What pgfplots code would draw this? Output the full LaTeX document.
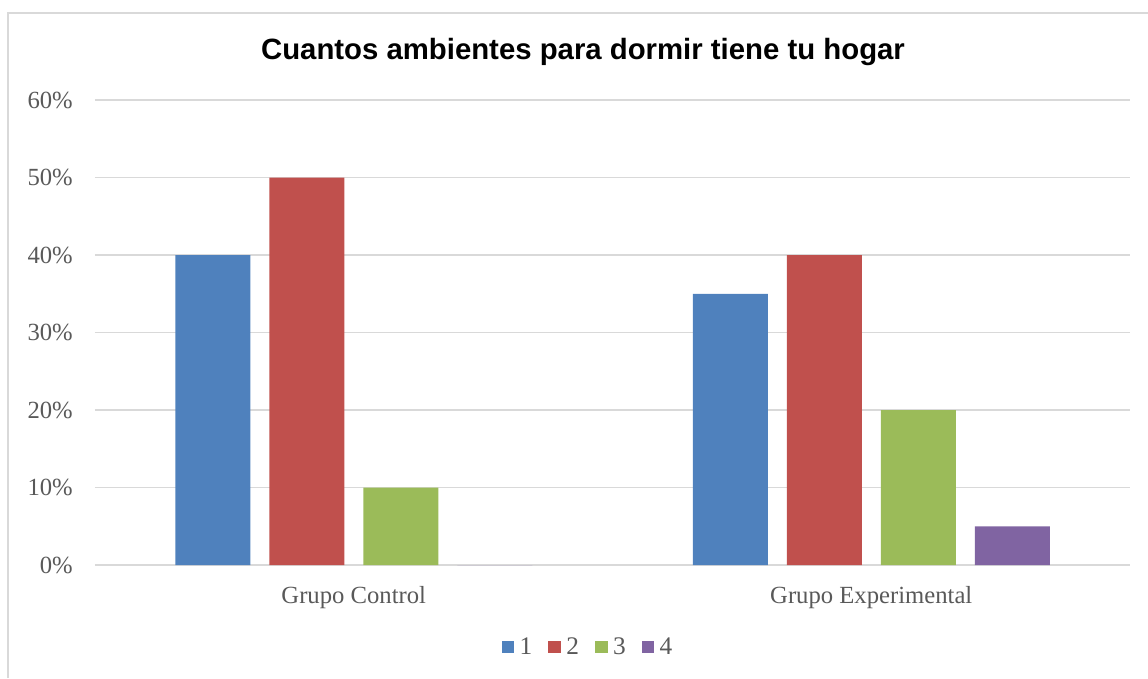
\documentclass[border=0pt]{standalone}
\usepackage{pgfplots}
\pgfplotsset{compat=1.18}
\usepackage{fontspec}
\setmainfont{Liberation Serif}
\newfontfamily\arial{Liberation Sans}

\definecolor{c1}{HTML}{4F81BD}
\definecolor{c2}{HTML}{C0504D}
\definecolor{c3}{HTML}{9BBB59}
\definecolor{c4}{HTML}{8064A2}
\definecolor{gridc}{HTML}{D9D9D9}
\definecolor{txt}{HTML}{595959}

\begin{document}
\begin{tikzpicture}
\path[use as bounding box] (-71.25pt,-84.75pt) rectangle (789.75pt,423.75pt);
\draw[gridc, line width=1pt] (-65.25pt,-84.75pt) -- (-65.25pt,414pt) -- (789.75pt,414pt);
\begin{axis}[
    scale only axis,
    width=776.25pt,
    height=348.75pt,
    ybar=14.25pt,
    bar width=56.25pt,
    xmin=-0.5, xmax=1.5,
    ymin=0, ymax=60,
    xtick={0,1},
    xticklabels={Grupo Control, Grupo Experimental},
    ytick={0,10,...,60},
    yticklabel={\pgfmathprintnumber{\tick}\%},
    /pgf/number format/assume math mode=true,
    major tick length=0pt,
    ymajorgrids,
    grid style={gridc, line width=1pt},
    axis x line*=bottom,
    axis y line*=left,
    x axis line style={gridc, line width=1.5pt},
    y axis line style={draw=none},
    ticklabel style={font=\fontsize{18.5}{20}\selectfont, text=txt, inner sep=0pt},
    yticklabel style={anchor=east, xshift=-16.5pt},
    xticklabel style={anchor=north, yshift=-16pt},
    clip=false,
    legend style={at={(rel axis cs:0.478,-0.176)}, anchor=center, draw=none,
        font=\fontsize{19}{20}\selectfont, text=txt,
        legend columns=-1,
        nodes={inner xsep=4pt},
        /tikz/every even column/.append style={column sep=8pt}},
    legend image code/.code={\fill[#1] (0pt,-4.75pt) rectangle (9.5pt,4.75pt);},
]
\addplot[fill=c1, draw=none] coordinates {(0,40) (1,35)};
\addplot[fill=c2, draw=none] coordinates {(0,50) (1,40)};
\addplot[fill=c3, draw=none] coordinates {(0,10) (1,20)};
\addplot[fill=c4, draw=none] coordinates {(0,0) (1,5)};
\legend{1,2,3,4}
\node[font=\arial\bfseries\fontsize{22}{26}\selectfont] at (rel axis cs:0.4715,1.103) {Cuantos ambientes para dormir tiene tu hogar};
\end{axis}
\end{tikzpicture}
\end{document}
